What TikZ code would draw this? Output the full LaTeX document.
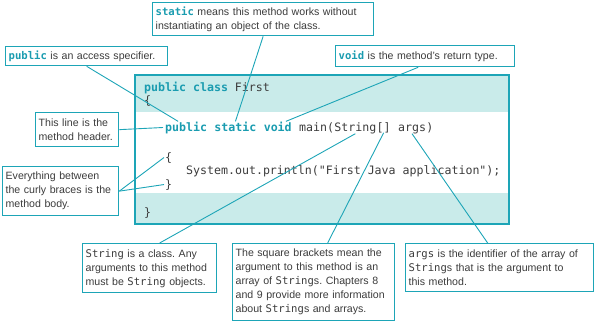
\documentclass[tikz,border=0pt]{standalone}
\usepackage{fontspec}
\setmainfont{Liberation Sans}
\newfontfamily\codefont{DejaVu Sans Mono}
\usetikzlibrary{positioning,calc}
\definecolor{callout}{HTML}{1DA5B7}
\definecolor{keyword}{HTML}{1A9CB0}
\definecolor{band}{HTML}{C9EBEA}
\definecolor{codetext}{HTML}{3C3C3C}
\newcommand{\kw}[1]{{\codefont\bfseries\color{keyword}#1}}
\newcommand{\cd}[1]{{\codefont #1}}
\newcommand{\cw}{6.98pt}
\tikzset{
	note/.style={draw=callout, line width=1.3pt, fill=white, anchor=north west, align=left, inner xsep=3pt, inner ysep=2pt, font=\fontsize{10.6}{14}\selectfont\frenchspacing, text=codetext},
	tok/.style={anchor=base west, inner sep=0pt, font=\fontsize{11.6}{14}\codefont, text=codetext},
	kwtok/.style={tok, font=\fontsize{11.6}{14}\codefont\bfseries, text=keyword},
	link/.style={draw=callout, line width=0.9pt}
}

\begin{document}
\begin{tikzpicture}[x=1pt, y=-1pt]
	\useasboundingbox (0,0) rectangle (595,322);
	% listing with its shaded bands
	\fill[band] (135,75) rectangle (509,112);
	\fill[band] (135,193) rectangle (509,224);
	\draw[callout, line width=1.3pt] (135,75) rectangle (509,224);
	\node[tok] (clsline) at (144,91) {\textcolor{keyword}{\bfseries public class} First};
	\node[tok] (clsopen) at (144,104) {\{};
	\node[kwtok] (kwpublic) at (165,131) {public};
	\node[kwtok] (kwstatic) at ([xshift=\cw]kwpublic.base east) {static};
	\node[kwtok] (kwvoid) at ([xshift=\cw]kwstatic.base east) {void};
	\node[tok] (hdmain) at ([xshift=\cw]kwvoid.base east) {main(};
	\node[tok] (hdstring) at (hdmain.base east) {String};
	\node[tok] (hdbrack) at (hdstring.base east) {[]};
	\node[tok] (hdargs) at ([xshift=\cw]hdbrack.base east) {args};
	\node[tok] (hdclose) at (hdargs.base east) {)};
	\node[tok] (bopen) at (165,161) {\{};
	\node[tok] (println) at (186,174.5) {System.out.println("First Java application");};
	\node[tok] (bclose) at (165,188) {\}};
	\node[tok] (clsclose) at (144,216) {\}};
	% callouts
	\node[note, text width=215pt, minimum height=33pt] (staticnote) at (152,2) {\kw{static} means this method works without\\instantiating an object of the class.};
	\node[note, text width=156pt, minimum height=19pt] (pubnote) at (5,46) {\kw{public} is an access specifier.};
	\node[note, text width=173pt, minimum height=21pt] (voidnote) at (335,45) {\kw{void} is the method’s return type.};
	\node[note, text width=77pt, minimum height=34pt] (headnote) at (35,112) {This line is the\\method header.};
	\node[note, text width=110pt, minimum height=49pt] (bodynote) at (2,166) {Everything between\\the curly braces is the\\method body.};
	\node[note, text width=128pt, minimum height=49pt] (stringnote) at (82,243) {\cd{String} is a class. Any\\arguments to this method\\must be \cd{String} objects.};
	\node[note, text width=156pt, minimum height=77pt] (bracknote) at (232,243) {The square brackets mean the\\argument to this method is an\\array of \cd{String}s. Chapters 8\\and 9 provide more information\\about \cd{String}s and arrays.};
	\node[note, text width=182pt, minimum height=48pt] (argsnote) at (405,243) {\cd{args} is the identifier of the array of\\\cd{String}s that is the argument to\\this method.};
	% leader lines
	\draw[link] (pubnote.south) -- ([xshift=-8pt]kwpublic.north);
	\draw[link] (staticnote.south) -- (kwstatic.north);
	\draw[link] ([xshift=-7pt]voidnote.south) -- ([xshift=-6pt]kwvoid.north east);
	\draw[link] (headnote.east) -- ([xshift=-2pt]kwpublic.west);
	\draw[link] (bodynote.east) -- ([xshift=-1pt]bopen.west);
	\draw[link] (bodynote.east) -- ([xshift=-1pt]bclose.west);
	\draw[link] ([xshift=10pt]stringnote.north) -- (hdstring.south);
	\draw[link] ([xshift=14pt]bracknote.north) -- (hdbrack.south);
	\draw[link] ([xshift=-12pt]argsnote.north) -- (hdargs.south);
\end{tikzpicture}
\end{document}
